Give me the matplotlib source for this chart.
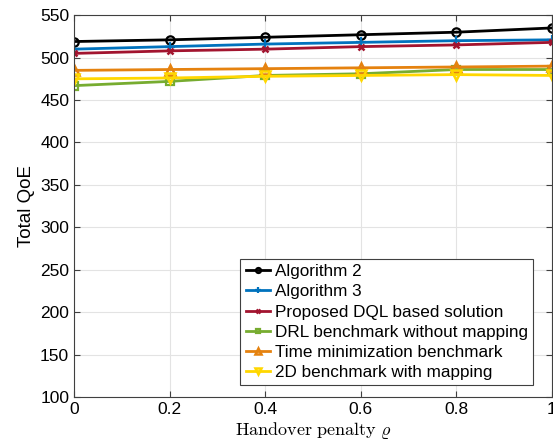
import matplotlib
matplotlib.use("Agg")
import matplotlib.pyplot as plt

plt.rcParams['mathtext.fontset'] = 'cm'
plt.rcParams['font.family'] = ['Liberation Sans', 'DejaVu Sans']

rho = [0, 0.2, 0.4, 0.6, 0.8, 1.0]

alg2 = [519, 521, 524, 527, 530, 535]
alg3 = [510, 513, 516, 518, 520, 521]
dql = [505, 508, 510, 513, 515, 518]
drl_nomap = [467, 472, 479, 481, 486, 486]
time_min = [485, 486, 487, 488, 489, 490]
bench_2d = [475, 476, 478, 479, 480, 479]

labels = ['Algorithm 2', 'Algorithm 3', 'Proposed DQL based solution',
          'DRL benchmark without mapping', 'Time minimization benchmark',
          '2D benchmark with mapping']

fig = plt.figure(figsize=(5.53, 4.48), dpi=100)
ax = fig.add_axes([0.134, 0.114, 0.864, 0.852])

ax.plot(rho, alg2, color='black', marker='o', mfc='none', ms=6, mew=1.6, lw=2, label=labels[0])
ax.plot(rho, alg3, color='#0072BD', marker='+', ms=7, mew=1.6, lw=2, label=labels[1])
ax.plot(rho, dql, color='#A2142F', marker='x', ms=4.5, mew=1.8, lw=2, label=labels[2])
ax.plot(rho, drl_nomap, color='#77AC30', marker='s', mfc='none', ms=5.5, mew=1.6, lw=2, label=labels[3])
ax.plot(rho, time_min, color='#E5820F', marker='^', mfc='none', ms=7, mew=1.8, lw=2, label=labels[4])
ax.plot(rho, bench_2d, color='#FFD700', marker='v', mfc='none', ms=7, mew=1.8, lw=2, label=labels[5])

ax.set_xlim(0, 1)
ax.set_ylim(100, 550)
ax.set_xticks(rho)
ax.set_xticklabels(['0', '0.2', '0.4', '0.6', '0.8', '1'])
ax.set_yticks(range(100, 551, 50))
ax.tick_params(labelsize=12.5, direction='in', length=4, color='#404040',
               top=True, right=True)
ax.grid(True, color='#e3e3e3', lw=0.8)
for s in ax.spines.values():
    s.set_color('#404040')

ax.set_xlabel(r'$\mathrm{Handover\ penalty}\ \varrho$', fontsize=13, labelpad=2)
ax.set_ylabel('Total QoE', fontsize=13.5)

leg = ax.legend(loc='lower right', bbox_to_anchor=(0.96, 0.031), borderaxespad=0,
                fontsize=12.3, handlelength=1.4, handletextpad=0.3,
                labelspacing=0.3, borderpad=0.3, fancybox=False,
                framealpha=1, markerscale=0.6)
leg.get_frame().set_edgecolor('#404040')
leg.get_frame().set_linewidth(0.8)

fig.savefig('out.png', dpi=100)
